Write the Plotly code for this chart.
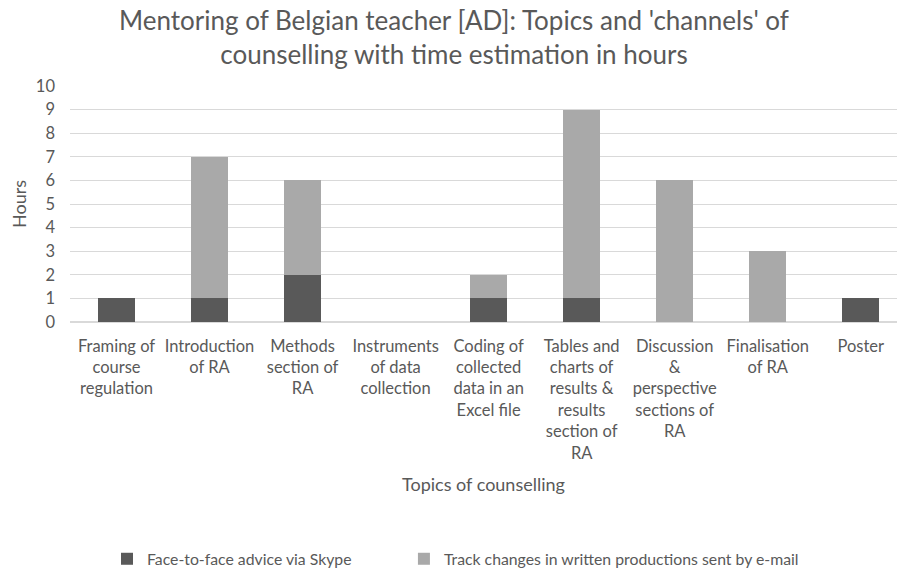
import plotly.graph_objects as go

categories = [
    "Framing of<br>course<br>regulation",
    "Introduction<br>of RA",
    "Methods<br>section of<br>RA",
    "Instruments<br>of data<br>collection",
    "Coding of<br>collected<br>data in an<br>Excel file",
    "Tables and<br>charts of<br>results &<br>results<br>section of<br>RA",
    "Discussion<br>&<br>perspective<br>sections of<br>RA",
    "Finalisation<br>of RA",
    "Poster",
]
skype_hours = [1, 1, 2, 0, 1, 1, 0, 0, 1]
email_hours = [0, 6, 4, 0, 1, 8, 6, 3, 0]
series_names = ["Face-to-face advice via Skype",
                "Track changes in written productions sent by e-mail"]
y_ticks = list(range(0, 11))

FONT = "Lato"
TXT = "#595959"
PAD = "\u2002" * 6  # spacing between legend entries

fig = go.Figure()
fig.add_trace(go.Bar(x=list(range(len(categories))), y=skype_hours, name=series_names[0] + PAD,
                     marker=dict(color="#595959", line=dict(width=0))))
fig.add_trace(go.Bar(x=list(range(len(categories))), y=email_hours, name=series_names[1],
                     marker=dict(color="#a9a9a9", line=dict(width=0))))

fig.update_layout(
    width=897, height=571,
    barmode="stack", bargap=0.6,
    plot_bgcolor="white", paper_bgcolor="white",
    margin=dict(l=70, r=0, t=86, b=249, autoexpand=False),
    font=dict(family=FONT, color=TXT, size=16),
    title=dict(text="Mentoring of Belgian teacher [AD]: Topics and 'channels' of<br>counselling with time estimation in hours",
               x=454 / 897, xref="container", xanchor="center", y=1 - 30 / 571, yref="container", yanchor="top",
               font=dict(family=FONT, size=26, color=TXT)),
    legend=dict(orientation="h", x=107 / 897, xref="container", xanchor="left",
                y=12 / 571, yref="container", yanchor="middle",
                font=dict(family=FONT, size=15.8, color=TXT),
                traceorder="normal", itemwidth=30),
    showlegend=True,
)
fig.update_xaxes(
    tickmode="array", tickvals=list(range(len(categories))), ticktext=categories,
    range=[-0.5, 8.39], showgrid=False, zeroline=False, showline=False, automargin=False,
    ticks="", ticklabelstandoff=12, tickangle=0,
    tickfont=dict(family=FONT, size=16.5, color=TXT),
    title=dict(text="Topics of counselling", font=dict(family=FONT, size=18, color=TXT), standoff=16),
)
fig.update_yaxes(
    range=[0, 10], tickmode="array", tickvals=y_ticks, automargin=False,
    showgrid=True, gridcolor="#d9d9d9", gridwidth=1, zeroline=True, zerolinecolor="#d9d9d9",
    showline=False, ticks="", ticklabelstandoff=14,
    tickfont=dict(family=FONT, size=16.5, color=TXT),
    title=dict(text="Hours", font=dict(family=FONT, size=18, color=TXT), standoff=4),
)

fig.write_html("out.html", config={"displayModeBar": False},
               post_script="document.body.style.margin='0';document.body.style.overflow='hidden';")
